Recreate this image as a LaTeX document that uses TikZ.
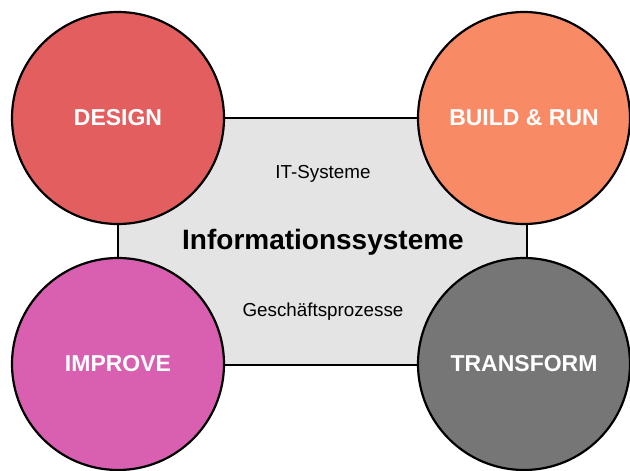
\documentclass[tikz,border=0pt]{standalone}
\usepackage{fontspec}
\setmainfont{Liberation Sans}
\definecolor{cdesign}{HTML}{E35F5F}
\definecolor{cbuild}{HTML}{F98A66}
\definecolor{cimprove}{HTML}{D95FB0}
\definecolor{ctrans}{HTML}{767676}
\definecolor{cbox}{HTML}{E4E4E4}
\tikzset{
  phase/.style={circle, draw=black, line width=2.2pt, minimum size=212pt, inner sep=0pt,
    text=white, font=\fontsize{23}{26}\selectfont\bfseries},
  infobox/.style={rectangle, draw=black, line width=2pt, fill=cbox, inner sep=0pt},
  small/.style={font=\fontsize{18.8}{22}\selectfont, inner sep=0pt},
  big/.style={font=\fontsize{28}{32}\selectfont\bfseries, inner sep=0pt}
}
\begin{document}
\begin{tikzpicture}[x=1pt,y=-1pt]
\useasboundingbox (0,0) rectangle (630,471);
\node[infobox, minimum width=409pt, minimum height=247pt] (box) at (322.5,241.5) {};
\node[small] (it) at (323,174) {IT-Systeme};
\node[big] (info) at (323,242) {Informationssysteme};
\node[small] (gp) at (323,312) {Geschäftsprozesse};
\node[phase, fill=cdesign] (design) at (118,118) {DESIGN};
\node[phase, fill=cbuild] (build) at (524,118) {BUILD \& RUN};
\node[phase, fill=cimprove] (improve) at (118,364) {IMPROVE};
\node[phase, fill=ctrans] (trans) at (524,364) {TRANSFORM};
\end{tikzpicture}
\end{document}
